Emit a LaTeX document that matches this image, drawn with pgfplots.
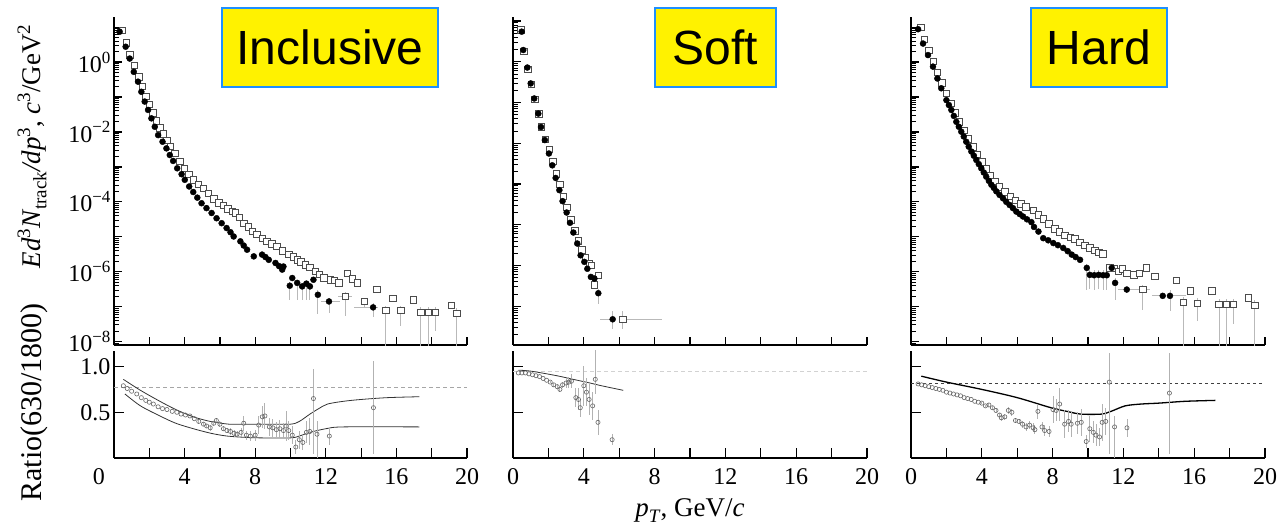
\documentclass[border=0pt]{standalone}
\usepackage{fontspec}
\setmainfont{Liberation Serif}
\newfontfamily\arialfont{Liberation Sans}
\usepackage{pgfplots}
\usepackage{pgfplotstable}
\pgfplotsset{compat=1.18}

\newcommand\sps[2][17]{\raisebox{0.38em}{\fontsize{#1}{#1}\selectfont #2}}
\newcommand\sbs[2][19]{\raisebox{-0.22em}{\fontsize{#1}{#1}\selectfont #2}}
\newcommand\tl[1]{\textrm{#1}}

\definecolor{boxblue}{RGB}{30,144,255}

\pgfplotsset{
 panel/.style={
   scale only axis,
   axis lines*=left,
   axis line style={line width=1.6pt},
   tick align=inside,
   major tick length=8pt, minor tick length=5pt,
   every tick/.style={line width=1.2pt, black},
   every minor tick/.style={line width=0.9pt, black},
   xmin=0, xmax=20, xtick={0,2,...,20},
   tick label style={font=\rmfamily\fontsize{24}{24}\selectfont},
   /pgf/number format/assume math mode=true,
 },
 mtick/.style={minor ytick={9e-9,2e-8,3e-8,4e-8,5e-8,6e-8,7e-8,8e-8,9e-8,2e-7,3e-7,4e-7,5e-7,6e-7,7e-7,8e-7,9e-7,2e-6,3e-6,4e-6,5e-6,6e-6,7e-6,8e-6,9e-6,2e-5,3e-5,4e-5,5e-5,6e-5,7e-5,8e-5,9e-5,2e-4,3e-4,4e-4,5e-4,6e-4,7e-4,8e-4,9e-4,2e-3,3e-3,4e-3,5e-3,6e-3,7e-3,8e-3,9e-3,0.02,0.03,0.04,0.05,0.06,0.07,0.08,0.09,0.2,0.3,0.4,0.5,0.6,0.7,0.8,0.9,2,3,4,5,6,7,8,9}},
 mticksoft/.style={minor ytick={2e-7,3e-7,4e-7,5e-7,6e-7,7e-7,8e-7,9e-7,2e-6,3e-6,4e-6,5e-6,6e-6,7e-6,8e-6,9e-6,2e-5,3e-5,4e-5,5e-5,6e-5,7e-5,8e-5,9e-5,2e-4,3e-4,4e-4,5e-4,6e-4,7e-4,8e-4,9e-4,2e-3,3e-3,4e-3,5e-3,6e-3,7e-3,8e-3,9e-3,0.02,0.03,0.04,0.05,0.06,0.07,0.08,0.09,0.2,0.3,0.4,0.5,0.6,0.7,0.8,0.9,2,3,4,5,6,7,8,9}},
 ratiopanel/.style={panel, height=107pt, ymin=0, ymax=1.17, ytick={0.5,1.0},
   xticklabel shift=7pt,
   xticklabels={\tl{0},,\tl{4},,\tl{8},,\tl{12},,\tl{16},,\tl{20}}},
 opensq/.style={only marks, mark=square*, mark size=3.2pt,
   mark options={draw=black!70, fill=white, line width=0.8pt},
   error bars/y dir=both, error bars/y explicit, error bars/x dir=both, error bars/x explicit,
   error bars/error bar style={gray!55, line width=0.9pt}, error bars/error mark=none},
 filledc/.style={only marks, mark=*, mark size=3pt,
   mark options={draw=black, fill=black},
   error bars/y dir=both, error bars/y explicit, error bars/x dir=both, error bars/x explicit,
   error bars/error bar style={gray!55, line width=0.9pt}, error bars/error mark=none},
 ratiopts/.style={only marks, mark=o, mark size=2.1pt,
   mark options={draw=black!60, line width=0.6pt},
   error bars/y dir=both, error bars/y explicit,
   error bars/error bar style={gray!60, line width=0.9pt}, error bars/error mark=none},
}

% ---------------- Inclusive ----------------
\pgfplotstableread[row sep=\\]{
x y em ep xm xp\\
0.32 7.41 0 0 0 0\\
0.66 2.75 0 0 0 0\\
0.89 1.26 0 0 0 0\\
1.12 0.525 0 0 0 0\\
1.36 0.275 0 0 0 0\\
1.55 0.141 0 0 0 0\\
1.74 0.0741 0 0 0 0\\
1.93 0.0427 0 0 0 0\\
2.12 0.0245 0 0 0 0\\
2.31 0.0141 0 0 0 0\\
2.50 0.00813 0 0 0 0\\
2.75 0.00525 0 0 0 0\\
2.97 0.00339 0 0 0 0\\
3.16 0.00219 0 0 0 0\\
3.35 0.00148 0 0 0 0\\
3.58 0.000912 0 0 0 0\\
3.83 0.000617 0 0 0 0\\
4.01 0.000427 0 0 0 0\\
4.26 0.000275 0 0 0 0\\
4.49 0.000191 0 0 0 0\\
4.72 0.000132 0 0 0 0\\
4.96 9.12e-5 0 0 0 0\\
5.24 6.61e-5 0 0 0 0\\
5.53 4.79e-5 0 0 0 0\\
5.81 3.39e-5 0 0 0 0\\
6.10 2.45e-5 0 0 0 0\\
6.38 1.78e-5 0 0 0 0\\
6.60 1.35e-5 0 0 0 0\\
6.78 1.02e-5 0 0 0 0\\
7.16 7.41e-6 0 0 0 0\\
7.35 5.62e-6 0 0 0 0\\
7.54 4.27e-6 0 0 0 0\\
7.92 2.75e-6 0 0 0 0\\
8.39 3.09e-6 0 0 0 0\\
8.58 2.63e-6 0 0 0 0\\
8.77 2.19e-6 0 0 0 0\\
9.15 1.78e-6 0 0 0 0\\
9.35 1.45e-6 0 0 0 0\\
9.53 1.15e-6 0 0 0 0\\
9.60 1.41e-6 0 0 0 0\\
9.96 3.98e-7 2.4e-7 1e-7 0 0\\
10.10 6.61e-7 0 0 0 0\\
10.38 4.79e-7 3.2e-7 1e-7 0 0\\
10.66 3.80e-7 2.2e-7 1e-7 0 0\\
10.90 4.57e-7 3.0e-7 1e-7 0 0\\
11.10 3.80e-7 2.2e-7 1e-7 0 0\\
11.30 5.89e-7 0 0 0 0\\
11.55 2.19e-7 1.56e-7 0.8e-7 0 0\\
12.18 1.41e-7 7.3e-8 4e-8 0.45 0.6\\
14.68 9.55e-8 4.6e-8 3e-8 1.1 0.3\\
}\incF

\pgfplotstableread[row sep=\\]{
x y em ep xm xp\\
0.47 8.13 0 0 0 0\\
0.70 3.55 0 0 0 0\\
0.89 1.585 0 0 0 0\\
1.17 0.813 0 0 0 0\\
1.40 0.380 0 0 0 0\\
1.60 0.200 0 0 0 0\\
1.80 0.105 0 0 0 0\\
2.00 0.0603 0 0 0 0\\
2.20 0.0347 0 0 0 0\\
2.40 0.0209 0 0 0 0\\
2.60 0.0132 0 0 0 0\\
2.80 0.00871 0 0 0 0\\
3.00 0.00575 0 0 0 0\\
3.20 0.00380 0 0 0 0\\
3.45 0.00240 0 0 0 0\\
3.73 0.00141 0 0 0 0\\
4.00 8.91e-4 0 0 0 0\\
4.25 6.03e-4 0 0 0 0\\
4.50 4.27e-4 0 0 0 0\\
4.78 3.16e-4 0 0 0 0\\
5.06 2.45e-4 0 0 0 0\\
5.35 1.74e-4 0 0 0 0\\
5.65 1.20e-4 0 0 0 0\\
5.95 9.33e-5 0 0 0 0\\
6.20 7.94e-5 0 0 0 0\\
6.45 6.31e-5 0 0 0 0\\
6.70 5.25e-5 0 0 0 0\\
6.88 4.79e-5 0 0 0 0\\
7.10 3.55e-5 0 0 0 0\\
7.35 2.45e-5 0 0 0 0\\
7.60 1.91e-5 0 0 0 0\\
7.85 1.45e-5 0 0 0 0\\
8.10 1.15e-5 0 0 0 0\\
8.40 8.91e-6 0 0 0 0\\
8.67 7.41e-6 0 0 0 0\\
8.95 6.31e-6 0 0 0 0\\
9.24 5.25e-6 0 0 0 0\\
9.55 3.98e-6 0 0 0 0\\
9.90 3.09e-6 0 0 0 0\\
10.15 2.63e-6 0 0 0 0\\
10.38 2.19e-6 0 0 0 0\\
10.60 1.91e-6 0 0 0 0\\
10.85 1.58e-6 0 0 0 0\\
11.10 1.32e-6 0 0 0 0\\
11.40 1.02e-6 0 0 0 0\\
11.65 8.32e-7 0 0 0 0\\
11.90 6.61e-7 0 0 0 0\\
12.27 5.89e-7 0 0 0 0\\
12.50 5.62e-7 0 0 0 0\\
12.75 4.79e-7 0 0 0 0\\
13.22 9.12e-7 0 0 0 0\\
13.50 6.31e-7 0 0 0 0\\
13.79 4.79e-7 0 0 0 0\\
13.10 2.00e-7 1.47e-7 6e-8 0.4 0.4\\
14.17 1.41e-7 4e-8 3e-8 0 0\\
14.90 3.09e-7 0 0 0 0\\
15.40 7.76e-8 7.66e-8 3e-8 0 0\\
15.80 1.70e-7 0 0 0 0\\
16.25 7.76e-8 5.0e-8 3e-8 0 0\\
16.97 1.58e-7 0 0 0 0\\
17.39 6.92e-8 6.82e-8 3e-8 0 0\\
17.82 6.92e-8 6.82e-8 3e-8 0 0\\
18.20 6.92e-8 4.9e-8 3e-8 0 0\\
19.10 1.07e-7 0 0 0 0\\
19.43 6.31e-8 6.21e-8 3e-8 0 0\\
}\incO

% ---------------- Soft ----------------
\pgfplotstableread[row sep=\\]{
x y em ep xm xp\\
0.49 5.50 0 0 0 0\\
0.58 1.95 0 0 0 0\\
0.81 0.724 0 0 0 0\\
1.00 0.295 0 0 0 0\\
1.20 0.126 0 0 0 0\\
1.43 0.0537 0 0 0 0\\
1.58 0.0251 0 0 0 0\\
1.80 0.0120 0 0 0 0\\
2.03 0.00562 0 0 0 0\\
2.22 0.00288 0 0 0 0\\
2.41 0.00141 0 0 0 0\\
2.62 7.08e-4 0 0 0 0\\
2.80 3.80e-4 0 0 0 0\\
3.03 2.00e-4 0 0 0 0\\
3.22 1.12e-4 0 0 0 0\\
3.41 6.46e-5 0 0 0 0\\
3.63 3.47e-5 0 0 0 0\\
3.82 1.78e-5 0 0 0 0\\
4.03 1.23e-5 0 0 0 0\\
4.20 8.32e-6 0 0 0 0\\
4.40 5.25e-6 0 0 0 0\\
4.60 4.79e-6 0 0 0 0\\
4.82 2.09e-6 9.4e-7 5e-7 0 0\\
5.63 4.79e-7 2.1e-7 3e-7 0.7 0\\
}\softF

\pgfplotstableread[row sep=\\]{
x y em ep xm xp\\
0.45 6.03 0 0 0 0\\
0.62 1.78 0 0 0 0\\
0.84 0.661 0 0 0 0\\
1.03 0.275 0 0 0 0\\
1.23 0.120 0 0 0 0\\
1.46 0.0525 0 0 0 0\\
1.62 0.0251 0 0 0 0\\
1.84 0.0126 0 0 0 0\\
2.05 0.00708 0 0 0 0\\
2.25 0.00355 0 0 0 0\\
2.45 0.00178 0 0 0 0\\
2.66 9.77e-4 0 0 0 0\\
2.84 5.01e-4 0 0 0 0\\
3.05 2.63e-4 0 0 0 0\\
3.28 1.32e-4 0 0 0 0\\
3.50 7.08e-5 0 0 0 0\\
3.70 3.98e-5 0 0 0 0\\
3.90 2.40e-5 0 0 0 0\\
4.10 1.58e-5 0 0 0 0\\
4.30 1.12e-5 0 0 0 0\\
4.44 1.00e-5 0 0 0 0\\
4.60 3.31e-6 0 0 0 0\\
4.82 5.75e-6 0 0 0 0\\
6.20 4.79e-7 2.1e-7 3e-7 0 2.2\\
}\softO

% ---------------- Hard ----------------
\pgfplotstableread[row sep=\\]{
x y em ep xm xp\\
0.40 8.71 0 0 0 0\\
0.68 3.39 0 0 0 0\\
0.96 1.585 0 0 0 0\\
1.24 0.741 0 0 0 0\\
1.49 0.339 0 0 0 0\\
1.71 0.178 0 0 0 0\\
2.00 0.0813 0 0 0 0\\
2.14 0.0589 0 0 0 0\\
2.28 0.0427 0 0 0 0\\
2.42 0.0288 0 0 0 0\\
2.56 0.0195 0 0 0 0\\
2.70 0.0141 0 0 0 0\\
2.84 0.0102 0 0 0 0\\
2.98 0.00741 0 0 0 0\\
3.12 0.00525 0 0 0 0\\
3.26 0.00380 0 0 0 0\\
3.41 0.00275 0 0 0 0\\
3.55 0.00209 0 0 0 0\\
3.69 0.00158 0 0 0 0\\
3.83 0.00120 0 0 0 0\\
3.97 9.12e-4 0 0 0 0\\
4.11 6.92e-4 0 0 0 0\\
4.25 5.25e-4 0 0 0 0\\
4.40 3.98e-4 0 0 0 0\\
4.54 3.09e-4 0 0 0 0\\
4.68 2.51e-4 0 0 0 0\\
4.82 2.00e-4 0 0 0 0\\
5.00 1.58e-4 0 0 0 0\\
5.20 1.26e-4 0 0 0 0\\
5.38 1.00e-4 0 0 0 0\\
5.57 8.13e-5 0 0 0 0\\
5.76 6.61e-5 0 0 0 0\\
5.95 5.25e-5 0 0 0 0\\
6.14 4.47e-5 0 0 0 0\\
6.33 3.80e-5 0 0 0 0\\
6.55 3.16e-5 0 0 0 0\\
6.80 2.63e-5 0 0 0 0\\
6.95 1.91e-5 0 0 0 0\\
7.20 1.41e-5 0 0 0 0\\
7.47 9.12e-6 0 0 0 0\\
7.75 7.94e-6 0 0 0 0\\
8.04 6.61e-6 0 0 0 0\\
8.30 5.75e-6 0 0 0 0\\
8.60 4.79e-6 0 0 0 0\\
8.85 3.89e-6 0 0 0 0\\
9.08 3.09e-6 0 0 0 0\\
9.30 2.63e-6 0 0 0 0\\
9.55 2.19e-6 0 0 0 0\\
9.93 1.29e-6 9.8e-7 4e-7 0 0\\
10.10 8.13e-7 5.0e-7 3e-7 0 0\\
10.35 7.94e-7 4.9e-7 3e-7 0 0\\
10.60 8.13e-7 5.0e-7 3e-7 0 0\\
10.85 7.94e-7 4.9e-7 3e-7 0 0\\
11.06 7.94e-7 4.85e-7 3e-7 0 0\\
11.34 1.29e-6 0 0 0 0\\
11.53 4.79e-7 3.2e-7 2e-7 0 0\\
12.19 3.09e-7 0 0 0.5 0.58\\
14.22 2.04e-7 0 0 0.6 0\\
14.63 2.04e-7 1.3e-7 1e-7 0 0.9\\
}\hardF

\pgfplotstableread[row sep=\\]{
x y em ep xm xp\\
0.55 10.0 0 0 0 0\\
0.75 4.47 0 0 0 0\\
1.00 2.14 0 0 0 0\\
1.25 1.05 0 0 0 0\\
1.50 0.501 0 0 0 0\\
1.75 0.251 0 0 0 0\\
2.00 0.126 0 0 0 0\\
2.25 0.0661 0 0 0 0\\
2.50 0.0355 0 0 0 0\\
2.75 0.0195 0 0 0 0\\
3.00 0.0110 0 0 0 0\\
3.25 0.00631 0 0 0 0\\
3.50 0.00372 0 0 0 0\\
3.75 0.00224 0 0 0 0\\
4.00 0.00138 0 0 0 0\\
4.25 8.71e-4 0 0 0 0\\
4.50 5.62e-4 0 0 0 0\\
4.75 3.80e-4 0 0 0 0\\
5.00 2.69e-4 0 0 0 0\\
5.30 1.95e-4 0 0 0 0\\
5.60 1.45e-4 0 0 0 0\\
5.90 1.12e-4 0 0 0 0\\
6.20 8.71e-5 0 0 0 0\\
6.50 7.24e-5 0 0 0 0\\
6.91 5.62e-5 0 0 0 0\\
7.20 4.27e-5 0 0 0 0\\
7.47 3.24e-5 0 0 0 0\\
7.80 2.34e-5 0 0 0 0\\
8.14 1.70e-5 0 0 0 0\\
8.40 1.38e-5 0 0 0 0\\
8.70 1.10e-5 0 0 0 0\\
9.00 9.77e-6 0 0 0 0\\
9.27 8.71e-6 0 0 0 0\\
9.55 6.92e-6 0 0 0 0\\
9.83 5.62e-6 0 0 0 0\\
10.10 4.79e-6 0 0 0 0\\
10.40 4.07e-6 0 0 0 0\\
10.62 3.63e-6 0 0 0 0\\
10.85 3.24e-6 0 0 0 0\\
11.24 1.29e-6 0 0 0 0\\
11.50 1.26e-6 0 0 0 0\\
11.70 1.02e-6 0 0 0 0\\
11.95 1.20e-6 0 0 0 0\\
12.19 9.12e-7 0 0 0 0\\
12.60 8.13e-7 0 0 0 0\\
12.90 9.12e-7 0 0 0 0\\
13.30 1.29e-6 0 0 0 0\\
13.79 7.41e-7 0 0 0 0\\
13.10 3.09e-7 2.28e-7 1e-7 0.4 0.4\\
15.00 5.62e-7 0 0 0 0\\
15.38 1.35e-7 1.34e-7 5e-8 0 0\\
15.80 2.82e-7 0 0 0 0\\
16.18 1.26e-7 8.6e-8 5e-8 0 0\\
17.00 2.82e-7 0 0 0 0\\
17.40 1.15e-7 1.14e-7 5e-8 0 0\\
17.82 1.15e-7 1.14e-7 5e-8 0 0\\
18.20 1.15e-7 8.4e-8 5e-8 0 0\\
19.06 1.78e-7 0 0 0 0\\
19.43 1.07e-7 1.06e-7 5e-8 0 0\\
}\hardO

% ---------------- Ratios ----------------
\pgfplotstableread[row sep=\\]{
x y ep em\\
0.53 0.79 0 0\\
0.75 0.76 0 0\\
1.00 0.73 0 0\\
1.29 0.70 0 0\\
1.55 0.66 0 0\\
1.80 0.63 0 0\\
2.00 0.61 0 0\\
2.23 0.59 0 0\\
2.50 0.56 0 0\\
2.75 0.54 0 0\\
3.00 0.53 0 0\\
3.30 0.51 0 0\\
3.56 0.50 0 0\\
3.80 0.48 0 0\\
4.05 0.47 0 0\\
4.30 0.46 0 0\\
4.55 0.43 0 0\\
4.80 0.40 0.02 0.02\\
5.07 0.37 0.02 0.02\\
5.25 0.35 0.02 0.02\\
5.45 0.33 0.03 0.03\\
5.65 0.38 0.03 0.03\\
5.80 0.41 0.03 0.03\\
6.00 0.37 0.03 0.03\\
6.20 0.32 0.03 0.03\\
6.40 0.30 0.03 0.03\\
6.60 0.29 0.04 0.04\\
6.80 0.27 0.04 0.04\\
6.97 0.26 0.04 0.04\\
7.20 0.28 0.05 0.05\\
7.35 0.38 0.08 0.08\\
7.50 0.25 0.05 0.05\\
7.73 0.24 0.05 0.05\\
8.00 0.25 0.06 0.06\\
8.20 0.36 0.10 0.10\\
8.40 0.45 0.12 0.12\\
8.55 0.46 0.14 0.14\\
8.80 0.34 0.10 0.10\\
9.00 0.33 0.10 0.10\\
9.20 0.31 0.08 0.08\\
9.40 0.32 0.10 0.10\\
9.60 0.30 0.08 0.08\\
9.75 0.35 0.16 0.16\\
9.90 0.30 0.10 0.10\\
10.10 0.25 0.10 0.10\\
10.30 0.12 0.08 0.08\\
10.50 0.20 0.10 0.10\\
10.70 0.17 0.08 0.08\\
10.90 0.28 0.12 0.12\\
11.10 0.29 0.15 0.15\\
11.30 0.65 0.32 0.61\\
11.50 0.26 0.14 0.35\\
12.20 0.24 0.10 0.10\\
14.70 0.55 0.51 0.51\\
}\ratA

\pgfplotstableread[row sep=\\]{
x y ep em\\
0.30 0.93 0 0\\
0.50 0.93 0 0\\
0.70 0.93 0 0\\
0.90 0.92 0 0\\
1.10 0.91 0 0\\
1.30 0.90 0 0\\
1.50 0.89 0 0\\
1.70 0.87 0 0\\
1.90 0.85 0 0\\
2.10 0.83 0.01 0.01\\
2.30 0.80 0.02 0.02\\
2.50 0.78 0.02 0.02\\
2.65 0.75 0.03 0.03\\
2.80 0.80 0.03 0.03\\
3.00 0.82 0.05 0.05\\
3.15 0.83 0.06 0.06\\
3.30 0.84 0.08 0.08\\
3.55 0.66 0.10 0.10\\
3.70 0.64 0.12 0.12\\
3.80 0.55 0.10 0.10\\
4.00 0.79 0.22 0.22\\
4.15 0.72 0.15 0.15\\
4.30 0.64 0.17 0.17\\
4.50 0.57 0.15 0.15\\
4.65 0.86 0.33 0.16\\
4.80 0.39 0.14 0.14\\
5.60 0.20 0.06 0.06\\
}\ratB

\pgfplotstableread[row sep=\\]{
x y ep em\\
0.40 0.81 0 0\\
0.60 0.80 0 0\\
0.80 0.79 0 0\\
1.00 0.78 0 0\\
1.20 0.77 0 0\\
1.40 0.76 0 0\\
1.60 0.75 0 0\\
1.80 0.74 0 0\\
2.00 0.72 0 0\\
2.20 0.71 0 0\\
2.40 0.70 0 0\\
2.60 0.69 0 0\\
2.80 0.68 0 0\\
3.00 0.66 0 0\\
3.20 0.65 0 0\\
3.40 0.64 0 0\\
3.60 0.62 0 0\\
3.80 0.61 0 0\\
4.00 0.60 0.01 0.01\\
4.20 0.57 0.01 0.01\\
4.40 0.58 0.02 0.02\\
4.60 0.55 0.02 0.02\\
4.80 0.52 0.02 0.02\\
5.00 0.47 0.02 0.02\\
5.10 0.44 0.03 0.03\\
5.30 0.45 0.03 0.03\\
5.50 0.52 0.04 0.04\\
5.70 0.50 0.04 0.04\\
5.90 0.41 0.03 0.03\\
6.10 0.40 0.03 0.03\\
6.30 0.37 0.04 0.04\\
6.50 0.34 0.04 0.04\\
6.70 0.36 0.04 0.04\\
6.90 0.33 0.05 0.05\\
7.00 0.31 0.05 0.05\\
7.17 0.51 0.08 0.08\\
7.40 0.34 0.05 0.05\\
7.55 0.30 0.06 0.06\\
7.80 0.29 0.06 0.06\\
8.02 0.53 0.15 0.15\\
8.20 0.52 0.12 0.12\\
8.40 0.59 0.18 0.18\\
8.68 0.37 0.15 0.15\\
8.90 0.40 0.12 0.12\\
9.05 0.37 0.14 0.14\\
9.40 0.38 0.12 0.12\\
9.62 0.39 0.15 0.15\\
9.90 0.18 0.07 0.07\\
10.10 0.32 0.14 0.14\\
10.30 0.28 0.12 0.12\\
10.45 0.25 0.12 0.12\\
10.65 0.23 0.10 0.10\\
10.80 0.39 0.20 0.20\\
11.00 0.40 0.15 0.15\\
11.20 0.83 0.32 0.79\\
11.50 0.34 0.12 0.35\\
12.20 0.33 0.10 0.10\\
14.60 0.71 0.44 0.67\\
}\ratC

\begin{document}
\begin{tikzpicture}
\useasboundingbox (0,0) rectangle (1279pt,524pt);

% ===== Inclusive top =====
\begin{axis}[ymode=log, panel, mtick, height=328pt, xticklabels={},
  at={(114pt,179pt)}, anchor=south west, width=353pt,
  ymin=8e-9, ymax=19.5,
  ytick={1e-8,1e-7,1e-6,1e-5,1e-4,1e-3,1e-2,1e-1,1,10},
  yticklabels={\tl{10\sps{−8}},,\tl{10\sps{−6}},,\tl{10\sps{−4}},,\tl{10\sps{−2}},,\tl{10\sps{0}},},
  ylabel={\textit{Ed}\sps[19]{3}\textit{N}\sbs{track}\textit{/dp}\sps[19]{3}, \textit{c}\sps[19]{3}/GeV\sps[19]{2}},
  ylabel style={at={(axis description cs:-0.232,0.605)}, anchor=center, font=\fontsize{27}{27}\selectfont}]
\addplot[opensq] table[x=x,y=y,y error plus=ep,y error minus=em,x error plus=xp,x error minus=xm] {\incO};
\addplot[filledc] table[x=x,y=y,y error plus=ep,y error minus=em,x error plus=xp,x error minus=xm] {\incF};
\end{axis}

% ===== Inclusive ratio =====
\begin{axis}[ratiopanel, at={(114pt,66pt)}, anchor=south west, width=353pt,
  xticklabels={\tl{\makebox[0pt][r]{0\hspace{9pt}}},,\tl{4},,\tl{8},,\tl{12},,\tl{16},,\tl{20}},
  yticklabels={\tl{0.5},\tl{1.0}}, major tick length=10pt,
  ylabel={Ratio(630/1800)},
  ylabel style={at={(axis description cs:-0.226,0.52)}, anchor=center, font=\fontsize{30}{30}\selectfont}]
\addplot[gray!70, dash pattern=on 4pt off 3pt, line width=0.8pt] coordinates {(0,0.775) (20,0.775)};
\addplot[gray!40!black, line width=0.8pt, smooth] coordinates {(0.53,0.86) (1.5,0.74) (2.6,0.62) (3.5,0.53) (4.5,0.45) (5.45,0.40) (6.5,0.37) (7.3,0.37) (8.5,0.37) (10,0.37) (10.5,0.40) (11.1,0.48) (11.6,0.54) (12.1,0.59) (13,0.62) (14,0.64) (15.5,0.66) (17.3,0.67)};
\addplot[gray!40!black, line width=0.8pt, smooth] coordinates {(0.62,0.70) (1.5,0.57) (2.6,0.46) (3.5,0.38) (4.5,0.32) (5.5,0.27) (6.4,0.24) (7.5,0.225) (8.3,0.22) (10,0.22) (10.5,0.24) (11.1,0.28) (12,0.32) (13,0.34) (17.3,0.34)};
\addplot[ratiopts] table[x=x,y=y,y error plus=ep,y error minus=em] {\ratA};
\end{axis}

% ===== Soft top =====
\begin{axis}[ymode=log, panel, mticksoft, height=328pt, xticklabels={},
  at={(513pt,179pt)}, anchor=south west, width=354pt,
  ymin=1.12e-7, ymax=12.6,
  ytick={1e-7,1e-6,1e-5,1e-4,1e-3,1e-2,1e-1,1,10}, yticklabels={}]
\addplot[opensq] table[x=x,y=y,y error plus=ep,y error minus=em,x error plus=xp,x error minus=xm] {\softO};
\addplot[filledc] table[x=x,y=y,y error plus=ep,y error minus=em,x error plus=xp,x error minus=xm] {\softF};
\end{axis}

% ===== Soft ratio =====
\begin{axis}[ratiopanel, at={(513pt,66pt)}, anchor=south west, width=354pt,
  yticklabels={}, major tick length=10pt,
  xlabel={\textit{p}\sbs{\textit{T}}, GeV/\textit{c}},
  xlabel style={at={(axis description cs:0.5,-0.49)}, anchor=center, font=\fontsize{27}{27}\selectfont}]
\addplot[gray!35, dash pattern=on 4pt off 3pt, line width=0.8pt] coordinates {(0,0.95) (20,0.95)};
\addplot[gray!40!black, line width=0.8pt, smooth] coordinates {(0.3,0.96) (1.0,0.95) (2.47,0.90) (3.4,0.86) (4.35,0.82) (5.0,0.79) (6.23,0.74)};
\addplot[ratiopts] table[x=x,y=y,y error plus=ep,y error minus=em] {\ratB};
\end{axis}

% ===== Hard top =====
\begin{axis}[ymode=log, panel, mtick, height=328pt, xticklabels={},
  at={(911pt,179pt)}, anchor=south west, width=354pt,
  ymin=8e-9, ymax=19.5,
  ytick={1e-8,1e-7,1e-6,1e-5,1e-4,1e-3,1e-2,1e-1,1,10}, yticklabels={}]
\addplot[opensq] table[x=x,y=y,y error plus=ep,y error minus=em,x error plus=xp,x error minus=xm] {\hardO};
\addplot[filledc] table[x=x,y=y,y error plus=ep,y error minus=em,x error plus=xp,x error minus=xm] {\hardF};
\end{axis}

% ===== Hard ratio =====
\begin{axis}[ratiopanel, at={(911pt,66pt)}, anchor=south west, width=354pt,
  yticklabels={}, major tick length=10pt]
\addplot[black!75, dash pattern=on 3pt off 3pt, line width=1pt] coordinates {(0,0.81) (20,0.81)};
\addplot[black, line width=1.3pt, smooth] coordinates {(0.58,0.895) (2,0.83) (4,0.75) (6,0.66) (7.9,0.55) (8.8,0.51) (9.6,0.48) (10.75,0.48) (11.3,0.51) (12.1,0.57) (13,0.59) (14,0.60) (15.5,0.62) (17.2,0.63)};
\addplot[ratiopts] table[x=x,y=y,y error plus=ep,y error minus=em] {\ratC};
\end{axis}

% ===== Title boxes =====
\node[draw=boxblue, line width=2.5pt, fill=yellow, minimum width=216pt, minimum height=79pt, inner sep=0pt,
  font=\arialfont\fontsize{48}{48}\selectfont] at (330pt,476.5pt) {Inclusive};
\node[draw=boxblue, line width=2.5pt, fill=yellow, minimum width=121pt, minimum height=79pt, inner sep=0pt,
  font=\arialfont\fontsize{48}{48}\selectfont] at (715.5pt,476.5pt) {Soft};
\node[draw=boxblue, line width=2.5pt, fill=yellow, minimum width=136pt, minimum height=79pt, inner sep=0pt,
  font=\arialfont\fontsize{48}{48}\selectfont] at (1099pt,476.5pt) {Hard};
\end{tikzpicture}
\end{document}
